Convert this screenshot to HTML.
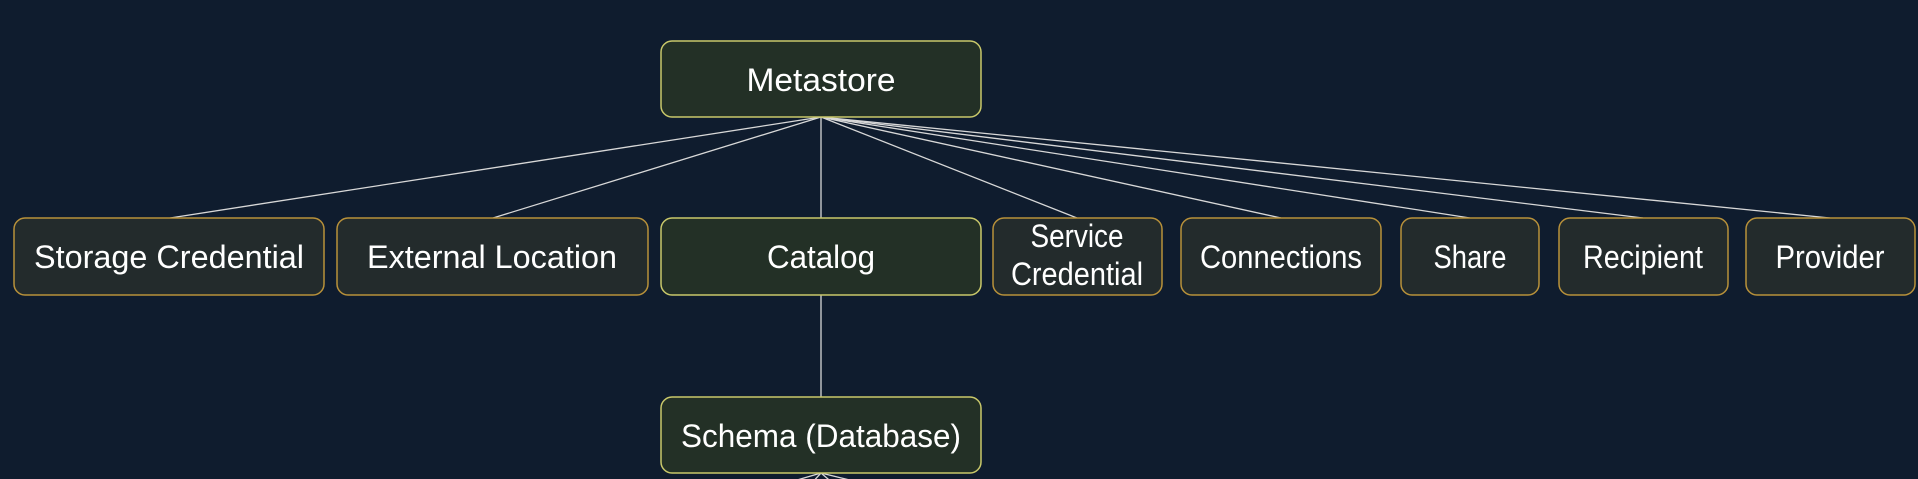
<!DOCTYPE html>
<html><head><meta charset="utf-8"><style>
html,body{margin:0;padding:0;background:#0f1c2e;}
svg{display:block}
text{font-family:"Liberation Sans",sans-serif;fill:#ffffff;font-size:32px;text-anchor:middle}
</style></head><body>
<svg width="1918" height="479" viewBox="0 0 1918 479" xmlns="http://www.w3.org/2000/svg">
<rect width="1918" height="479" fill="#0f1c2e"/>
<g stroke="#d8d8d8" stroke-width="1.3" fill="none">
<line x1="821" y1="117" x2="170" y2="218"/>
<line x1="821" y1="117" x2="493" y2="218"/>
<line x1="821" y1="117" x2="821" y2="218"/>
<line x1="821" y1="117" x2="1077" y2="218"/>
<line x1="821" y1="117" x2="1281" y2="218"/>
<line x1="821" y1="117" x2="1470" y2="218"/>
<line x1="821" y1="117" x2="1643" y2="218"/>
<line x1="821" y1="117" x2="1830" y2="218"/>
<line x1="821" y1="295" x2="821" y2="397"/>
<line x1="821" y1="473" x2="780" y2="485"/>
<line x1="821" y1="473" x2="810" y2="485"/>
<line x1="821" y1="473" x2="835" y2="485"/>
<line x1="821" y1="473" x2="870" y2="485"/>
</g>
<g stroke-width="1.5">
<rect x="661" y="41" width="320" height="76" rx="11" fill="#233026" stroke="#c9c86a"/>
<rect x="661" y="218" width="320" height="77" rx="11" fill="#233026" stroke="#c9c86a"/>
<rect x="661" y="397" width="320" height="76" rx="11" fill="#233026" stroke="#c9c86a"/>
<rect x="14" y="218" width="310" height="77" rx="11" fill="#232b2c" stroke="#b8913a"/>
<rect x="337" y="218" width="311" height="77" rx="11" fill="#232b2c" stroke="#b8913a"/>
<rect x="993" y="218" width="169" height="77" rx="11" fill="#232b2c" stroke="#b8913a"/>
<rect x="1181" y="218" width="200" height="77" rx="11" fill="#232b2c" stroke="#b8913a"/>
<rect x="1401" y="218" width="138" height="77" rx="11" fill="#232b2c" stroke="#b8913a"/>
<rect x="1559" y="218" width="169" height="77" rx="11" fill="#232b2c" stroke="#b8913a"/>
<rect x="1746" y="218" width="169" height="77" rx="11" fill="#232b2c" stroke="#b8913a"/>
</g>
<text x="821" y="91" textLength="149" lengthAdjust="spacingAndGlyphs">Metastore</text>
<text x="169" y="268" textLength="270" lengthAdjust="spacingAndGlyphs">Storage Credential</text>
<text x="492" y="268" textLength="250" lengthAdjust="spacingAndGlyphs">External Location</text>
<text x="821" y="268" textLength="108" lengthAdjust="spacingAndGlyphs">Catalog</text>
<text x="1077" y="247" font-size="29" textLength="93" lengthAdjust="spacingAndGlyphs">Service</text>
<text x="1077" y="285" font-size="29" textLength="132" lengthAdjust="spacingAndGlyphs">Credential</text>
<text x="1281" y="268" font-size="29" textLength="162" lengthAdjust="spacingAndGlyphs">Connections</text>
<text x="1470" y="268" font-size="29" textLength="73" lengthAdjust="spacingAndGlyphs">Share</text>
<text x="1643" y="268" font-size="29" textLength="120" lengthAdjust="spacingAndGlyphs">Recipient</text>
<text x="1830" y="268" font-size="29" textLength="109" lengthAdjust="spacingAndGlyphs">Provider</text>
<text x="821" y="447" textLength="280" lengthAdjust="spacingAndGlyphs">Schema (Database)</text>
</svg>
</body></html>
